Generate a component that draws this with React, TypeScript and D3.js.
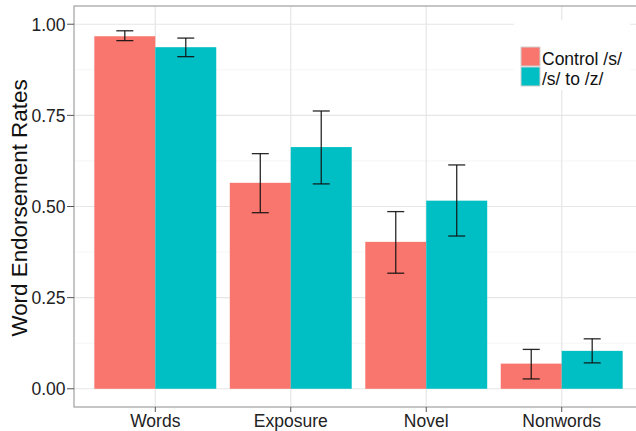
import React from 'react';
import * as d3 from 'd3';

// values
const categories = ['Words', 'Exposure', 'Novel', 'Nonwords'];
const groups = ['Control /s/', '/s/ to /z/'];
const controlMeans = [0.967, 0.565, 0.403, 0.069];
const controlLow = [0.955, 0.483, 0.317, 0.027];
const controlHigh = [0.982, 0.645, 0.486, 0.108];
const shiftMeans = [0.937, 0.663, 0.516, 0.104];
const shiftLow = [0.911, 0.562, 0.419, 0.071];
const shiftHigh = [0.962, 0.762, 0.614, 0.137];
const yTicks = [0, 0.25, 0.5, 0.75, 1];
const yMinor = [0.125, 0.375, 0.625, 0.875];
const colors = ['#F8766D', '#00BFC4'];

const W = 636;
const H = 431;
const FONT = '"Liberation Sans", Arial, Helvetica, sans-serif';

export default function App() {
  const panel = { left: 74, top: 6, right: 643, bottom: 407 };

  // discrete axis with 0.6 expansion on both sides, like ggplot
  const step = (panel.right - panel.left) / (categories.length - 1 + 1.2);
  const xCenter = d3.scalePoint<string>()
    .domain(categories)
    .range([panel.left + 0.6 * step, panel.right - 0.6 * step]);
  const sub = d3.scaleBand<string>()
    .domain(groups)
    .range([-0.45 * step, 0.45 * step]);

  const y = d3.scaleLinear().domain([-0.05, 1.05]).range([panel.bottom, panel.top]);
  const fmt = d3.format('.2f');

  const series = [
    { name: groups[0], mean: controlMeans, lo: controlLow, hi: controlHigh },
    { name: groups[1], mean: shiftMeans, lo: shiftLow, hi: shiftHigh },
  ];
  const capW = 17;

  return (
    <svg width={W} height={H} style={{ position: 'absolute', left: 0, top: 0, fontFamily: FONT }}>
      <rect x={0} y={0} width={W} height={H} fill="#fff" />

      {/* grid */}
      {yMinor.map(t => (
        <line key={'mn' + t} x1={panel.left} x2={panel.right} y1={y(t)} y2={y(t)} stroke="#f3f3f3" strokeWidth={0.8} />
      ))}
      {yTicks.map(t => (
        <line key={'mj' + t} x1={panel.left} x2={panel.right} y1={y(t)} y2={y(t)} stroke="#e6e6e6" strokeWidth={1.2} />
      ))}
      {categories.map(c => (
        <line key={'vg' + c} x1={xCenter(c)} x2={xCenter(c)} y1={panel.top} y2={panel.bottom} stroke="#e6e6e6" strokeWidth={1.2} />
      ))}

      {/* bars */}
      {series.map((s, si) =>
        categories.map((c, i) => (
          <rect
            key={s.name + c}
            x={xCenter(c)! + sub(s.name)!}
            width={sub.bandwidth()}
            y={y(s.mean[i])}
            height={y(0) - y(s.mean[i])}
            fill={colors[si]}
          />
        ))
      )}

      {/* error bars */}
      {series.map(s =>
        categories.map((c, i) => {
          const cx = xCenter(c)! + sub(s.name)! + sub.bandwidth() / 2;
          return (
            <g key={'e' + s.name + c} stroke="#111" strokeWidth={1.3} strokeOpacity={0.9}>
              <line x1={cx} x2={cx} y1={y(s.hi[i])} y2={y(s.lo[i])} />
              <line x1={cx - capW / 2} x2={cx + capW / 2} y1={y(s.hi[i])} y2={y(s.hi[i])} />
              <line x1={cx - capW / 2} x2={cx + capW / 2} y1={y(s.lo[i])} y2={y(s.lo[i])} />
            </g>
          );
        })
      )}

      {/* panel border */}
      <rect
        x={panel.left}
        y={panel.top}
        width={panel.right - panel.left}
        height={panel.bottom - panel.top}
        fill="none"
        stroke="#a0a0a0"
        strokeWidth={1.2}
      />

      {/* y axis */}
      {yTicks.map(t => (
        <g key={'yt' + t}>
          <line x1={panel.left - 7} x2={panel.left} y1={y(t)} y2={y(t)} stroke="#555" strokeWidth={1} />
          <text x={panel.left - 8.5} y={y(t)} dy="0.38em" textAnchor="end" fontSize={17.5} fill="#222">
            {fmt(t)}
          </text>
        </g>
      ))}
      <text
        transform={`translate(26.5,${208}) rotate(-90)`}
        textAnchor="middle"
        fontSize={22.4}
        fill="#111"
      >
        Word Endorsement Rates
      </text>

      {/* x axis */}
      {categories.map(c => (
        <g key={'xt' + c}>
          <line x1={xCenter(c)} x2={xCenter(c)} y1={panel.bottom} y2={panel.bottom + 5} stroke="#555" strokeWidth={1} />
          <text x={xCenter(c)} y={panel.bottom + 19.7} textAnchor="middle" fontSize={17.5} fill="#222">
            {c}
          </text>
        </g>
      ))}

      {/* legend */}
      <g>
        <rect x={514} y={20} width={116} height={70} fill="#fff" />
        {groups.map((g, i) => (
          <g key={'lg' + g} transform={`translate(521,${47 + i * 20})`}>
            <rect x={0} y={0} width={19} height={19} fill={colors[i]} stroke="#cfcfcf" strokeWidth={1} />
            <text x={21} y={18} fontSize={17.5} fill="#111">
              {g}
            </text>
          </g>
        ))}
      </g>
    </svg>
  );
}
